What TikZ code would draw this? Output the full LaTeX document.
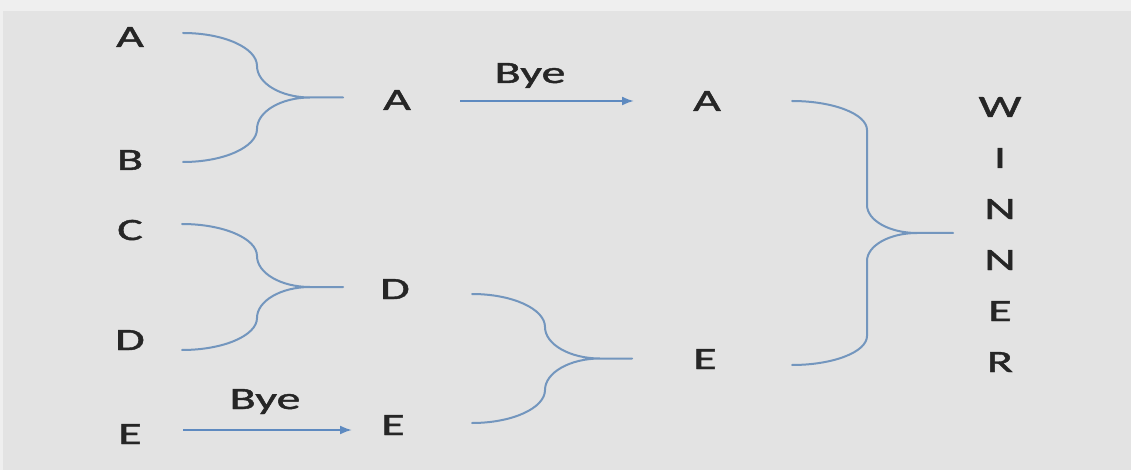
\documentclass[tikz,border=0pt]{standalone}
\usepackage{fontspec}
\setmainfont{Carlito}
\newfontfamily\lblfont[FakeBold=1.2]{Carlito}
\usetikzlibrary{arrows.meta,calc}
\definecolor{bgmain}{HTML}{E3E3E3}
\definecolor{bgtop}{HTML}{EFEFEF}
\definecolor{ink}{HTML}{262626}
\definecolor{bracecol}{HTML}{7396BE}
\definecolor{arrowcol}{HTML}{5E8AC0}
\newcommand{\wtxt}[1]{\scalebox{1.55}[1]{#1}}
% #1 top, #2 bottom, #3 tip, #4 x-offset of vertical, #5 end-curve height, #6 mid-curve height, #7 cusp offset
\newcommand{\drawbrace}[7]{%
  \draw[bracepath] let \p1=(#1), \p2=(#2), \p3=(#3) in
    (\p1) .. controls ({\x1+0.55*#4pt},\y1) and ({\x1+#4pt},{\y1-0.45*#5pt}) .. ({\x1+#4pt},{\y1-#5pt})
    -- ({\x1+#4pt},{\y3+#6pt}) .. controls ({\x1+#4pt},{\y3+0.45*#6pt}) and ({\x1+#4pt+0.45*#7pt},\y3) .. ({\x1+#4pt+#7pt},\y3) -- (\p3)
    (\p2) .. controls ({\x2+0.55*#4pt},\y2) and ({\x2+#4pt},{\y2+0.45*#5pt}) .. ({\x2+#4pt},{\y2+#5pt})
    -- ({\x2+#4pt},{\y3-#6pt}) .. controls ({\x2+#4pt},{\y3-0.45*#6pt}) and ({\x2+#4pt+0.45*#7pt},\y3) .. ({\x2+#4pt+#7pt},\y3) -- (\p3);
}
\tikzset{
  lbl/.style={anchor=base, inner sep=0pt, text=ink, font=\lblfont\fontsize{31}{36}\selectfont},
  bracepath/.style={draw=bracecol, line width=2pt, line cap=round},
  byearrow/.style={draw=arrowcol, line width=2pt, -{Latex[length=12pt,width=9pt]}},
}
\begin{document}
\begin{tikzpicture}[x=1pt,y=-1pt]
\useasboundingbox (0,0) rectangle (1131,470);
\fill[bgmain] (0,0) rectangle (1131,470);
\fill[bgtop] (0,0) rectangle (1131,11);
\fill[bgtop] (0,0) rectangle (3,470);

% column 1
\node[lbl] (a1) at (130,47) {\wtxt{A}};
\node[lbl] (b1) at (130,170) {\wtxt{B}};
\node[lbl] (c1) at (130,240) {\wtxt{C}};
\node[lbl] (d1) at (130,350) {\wtxt{D}};
\node[lbl] (e1) at (130,444) {\wtxt{E}};
% column 2
\node[lbl] (a2) at (397,110) {\wtxt{A}};
\node[lbl] (d2) at (395,299) {\wtxt{D}};
\node[lbl] (e2) at (393,435) {\wtxt{E}};
% column 3
\node[lbl] (a3) at (707,111) {\wtxt{A}};
\node[lbl] (e3) at (705,369) {\wtxt{E}};
% bye labels
\node[lbl] (bye1) at (530,83) {\wtxt{Bye}};
\node[lbl] (bye2) at (265,409) {\wtxt{Bye}};
% winner
\node[lbl] (w1) at (1000,117) {\wtxt{W}};
\node[lbl] (w2) at (1000,168) {\wtxt{I}};
\node[lbl] (w3) at (1000,219) {\wtxt{N}};
\node[lbl] (w4) at (1000,270) {\wtxt{N}};
\node[lbl] (w5) at (1000,321) {\wtxt{E}};
\node[lbl] (w6) at (1000,372) {\wtxt{R}};

% brace end points
\coordinate (abT) at (183,33);
\coordinate (abB) at (183,162);
\coordinate (abX) at (343,97.5);
\coordinate (cdT) at (182,224);
\coordinate (cdB) at (182,350);
\coordinate (cdX) at (343,287);
\coordinate (deT) at (472,294);
\coordinate (deB) at (472,423);
\coordinate (deX) at (632,358.5);
\coordinate (wT) at (792,101);
\coordinate (wB) at (792,365);
\coordinate (wX) at (953,233);

\drawbrace{abT}{abB}{abX}{74}{33}{31.5}{53}
\drawbrace{cdT}{cdB}{cdX}{75}{32}{31}{53}
\drawbrace{deT}{deB}{deX}{73}{33}{31.5}{55}
\drawbrace{wT}{wB}{wX}{75}{29}{28}{50}

% bye arrows
\coordinate (y1s) at (460,101);
\coordinate (y1e) at (634,101);
\coordinate (y2s) at (183,430);
\coordinate (y2e) at (352,430);
\draw[byearrow] (y1s) -- (y1e);
\draw[byearrow] (y2s) -- (y2e);
\end{tikzpicture}
\end{document}
